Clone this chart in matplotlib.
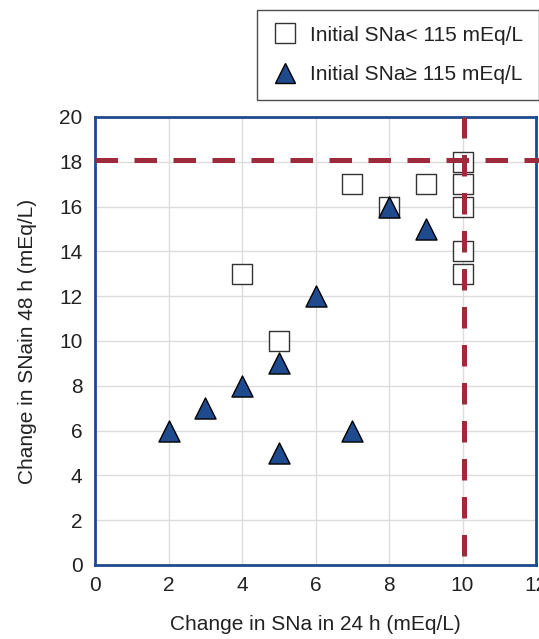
import numpy as np
import matplotlib.pyplot as plt
from matplotlib.lines import Line2D

plt.rcParams['font.family'] = ['Liberation Sans', 'DejaVu Sans']

# initial SNa < 115 mEq/L
low_x = [4, 5, 7, 8, 9, 10, 10, 10, 10, 10]
low_y = [13, 10, 17, 16, 17, 18, 17, 16, 14, 13]

# initial SNa >= 115 mEq/L
high_x = [2, 3, 4, 5, 5, 6, 7, 8, 9]
high_y = [6, 7, 8, 9, 5, 12, 6, 16, 15]

limit_24h = 10.05
limit_48h = 18.1

blue = '#1f4a8e'
red = '#9e2b3c'
txt = '#222222'
fs = 15

fig = plt.figure(figsize=(5.39, 6.39), dpi=100)
ax = fig.add_axes([95 / 539, 74 / 639, 441 / 539, 448 / 639])

ax.grid(True, color='#dcdcdc', linewidth=1)
ax.set_axisbelow(True)

ax.scatter(low_x, low_y, marker='s', s=200, facecolor='white',
           edgecolor='#333333', linewidth=1, zorder=2)
ax.scatter(high_x, high_y, marker='^', s=230, facecolor=blue,
           edgecolor='black', linewidth=1, zorder=3)

# threshold lines
ax.plot([limit_24h, limit_24h], [0.4, 20], color=red, lw=3.6,
        dashes=(4.3, 3.3), clip_on=False, zorder=4)
ax.plot([0, 12.2], [limit_48h, limit_48h], color=red, lw=3.6,
        dashes=(4.5, 3.3), clip_on=False, zorder=4)

ax.set_xlim(0, 12)
ax.set_ylim(0, 20)
ax.set_xticks(np.arange(0, 13, 2))
ax.set_yticks(np.arange(0, 21, 2))
ax.tick_params(length=0, labelsize=fs, colors=txt)
ax.tick_params(axis='y', pad=9)
ax.tick_params(axis='x', pad=8)
for s in ax.spines.values():
    s.set_color(blue)
    s.set_linewidth(2)

ax.set_xlabel('Change in SNa in 24 h (mEq/L)', fontsize=fs, labelpad=14, color=txt)
ax.set_ylabel('Change in SNain 48 h (mEq/L)', fontsize=fs, labelpad=16, color=txt)

handles = [
    Line2D([], [], marker='s', linestyle='none', markersize=14,
           markerfacecolor='white', markeredgecolor='#333333', markeredgewidth=1),
    Line2D([], [], marker='^', linestyle='none', markersize=15,
           markerfacecolor=blue, markeredgecolor='black', markeredgewidth=1),
]
leg = fig.legend(handles, ['Initial SNa< 115 mEq/L', 'Initial SNa\u2265 115 mEq/L'],
                 loc='upper right', bbox_to_anchor=(1.0, 1 - 10 / 639), borderaxespad=0,
                 fontsize=fs, frameon=True, fancybox=False, edgecolor=txt,
                 handlelength=1.2, handletextpad=0.6, labelspacing=1.0, borderpad=0.75)
leg.get_frame().set_linewidth(1)
for t in leg.get_texts():
    t.set_color(txt)

fig.savefig('out.png', dpi=100)
